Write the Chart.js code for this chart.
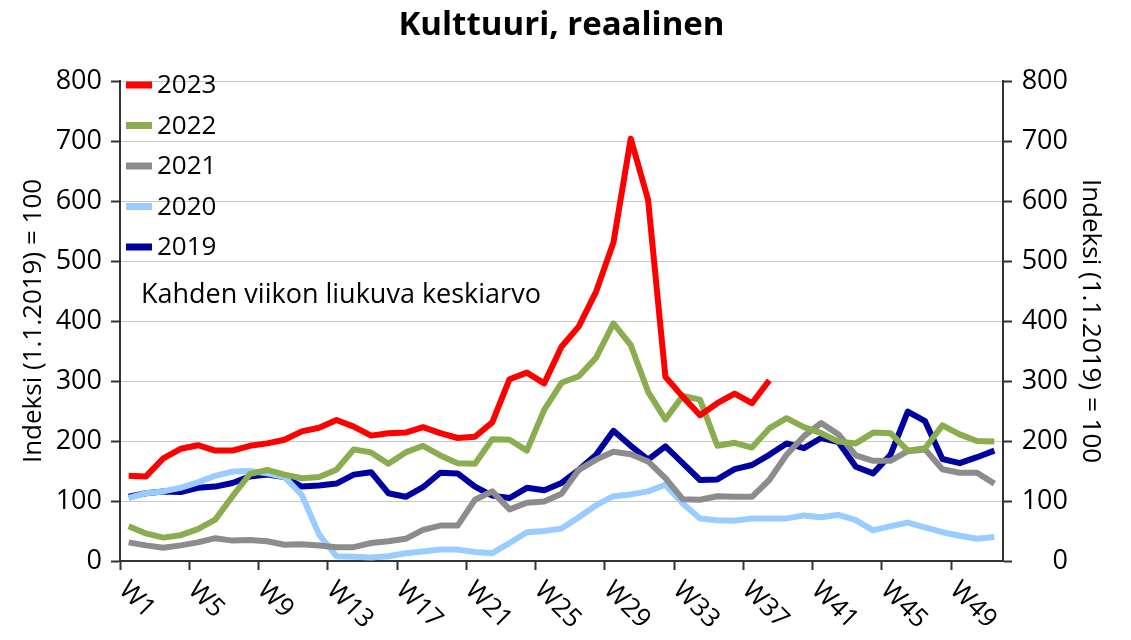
<!DOCTYPE html>
<html lang="fi">
<head>
<meta charset="UTF-8">
<title>Kulttuuri, reaalinen</title>
<script src="https://cdn.jsdelivr.net/npm/chart.js"></script>
<style>
  html, body { margin: 0; padding: 0; background: #fff; }
  #wrap { width: 1131px; height: 640px; }
</style>
</head>
<body>
<div id="wrap"><canvas id="chart" width="1131" height="640"></canvas></div>
<script>
  // viikot W1..W51 (kahden viikon liukuva keskiarvo)
  const weeks = ['W1','W2','W3','W4','W5','W6','W7','W8','W9','W10','W11','W12','W13','W14','W15','W16','W17',
    'W18','W19','W20','W21','W22','W23','W24','W25','W26','W27','W28','W29','W30','W31','W32','W33','W34',
    'W35','W36','W37','W38','W39','W40','W41','W42','W43','W44','W45','W46','W47','W48','W49','W50','W51'];

  const y2023 = [142,141,171,187,193,184,184,192,196,202,216,222,235,
    224,209,213,214,223,213,205,207,231,303,314,296,357,
    391,449,531,704,602,307,274,243,263,279,263,301];
  const y2022 = [58,46,39,43,53,69,108,145,152,144,138,140,152,
    186,181,162,181,192,176,163,162,203,202,184,252,297,
    308,339,396,360,282,236,275,269,192,197,189,221,238,
    223,213,199,196,214,213,184,188,226,211,200,199];
  const y2021 = [31,26,22,26,31,38,34,35,33,27,28,26,23,
    23,30,33,37,52,59,59,102,116,86,97,99,112,
    152,169,182,178,166,138,103,102,108,107,107,135,177,
    208,230,211,176,167,167,183,186,153,147,147,129];
  const y2020 = [105,113,116,122,131,142,149,150,146,140,110,44,8,
    7,6,8,13,16,19,19,15,13,30,48,50,54,
    73,93,108,111,116,127,96,71,68,67,71,71,71,
    76,73,77,68,51,58,64,56,48,42,37,40];
  const y2019 = [107,113,116,115,122,124,130,141,144,140,124,126,129,
    144,148,113,107,123,147,146,124,109,105,122,118,130,
    152,177,217,192,169,191,163,135,136,153,160,177,196,
    188,205,198,157,146,177,249,233,170,163,173,184];

  const seriesNames = ['2023', '2022', '2021', '2020', '2019'];
  const seriesColors = ['#ff0000', '#8aae4f', '#8c8c8c', '#99ccff', '#0000a0'];
  const yMin = 0, yMax = 800, yStep = 100;
  const note = 'Kahden viikon liukuva keskiarvo';
  const axisTitle = 'Indeksi (1.1.2019) = 100';

  const FONT = '"Open Sans", "Noto Sans", sans-serif';
  Chart.defaults.font.family = FONT;
  Chart.defaults.color = '#000';

  // selite ja huomautus piirtoalueen sisällä
  const legendAndNote = {
    id: 'legendAndNote',
    afterDraw(chart) {
      const { ctx, chartArea } = chart;
      ctx.save();
      ctx.font = '26px ' + FONT;
      ctx.textBaseline = 'middle';
      ctx.fillStyle = '#000';
      chart.data.datasets.forEach((ds, i) => {
        const y = chartArea.top + 4 + i * 40.5;
        ctx.strokeStyle = ds.borderColor;
        ctx.lineWidth = 7;
        ctx.beginPath();
        ctx.moveTo(chartArea.left + 6, y);
        ctx.lineTo(chartArea.left + 32, y);
        ctx.stroke();
        ctx.fillText(ds.label, chartArea.left + 37, y + 1);
      });
      ctx.font = '27px ' + FONT;
      ctx.textBaseline = 'alphabetic';
      ctx.fillText(note, chartArea.left + 21, chartArea.top + 222);
      ctx.restore();
    }
  };

  // vinot viikkotekstit x-akselille
  const weekLabels = {
    id: 'weekLabels',
    afterDraw(chart) {
      const sx = chart.scales.x;
      const ctx = chart.ctx;
      ctx.save();
      ctx.font = '26px ' + FONT;
      ctx.fillStyle = '#000';
      ctx.textAlign = 'left';
      ctx.textBaseline = 'middle';
      weeks.forEach((w, i) => {
        if (i % 4) return;
        const px = sx.getPixelForValue(i - 0.5);
        ctx.save();
        ctx.translate(px + 3, sx.top + 25);
        ctx.rotate(Math.PI / 4);
        ctx.fillText(w, 0, 0);
        ctx.restore();
      });
      ctx.restore();
    }
  };

  const allSeries = [y2023, y2022, y2021, y2020, y2019];

  new Chart(document.getElementById('chart'), {
    type: 'line',
    data: {
      labels: weeks,
      datasets: allSeries.map((d, i) => ({
        label: seriesNames[i],
        data: d,
        borderColor: seriesColors[i],
        backgroundColor: seriesColors[i],
        borderWidth: 6,
        borderJoinStyle: 'round',
        pointRadius: 0,
        tension: 0,
        fill: false,
        yAxisID: 'y'
      }))
    },
    options: {
      responsive: false,
      devicePixelRatio: 1,
      animation: false,
      layout: { padding: { left: 0, top: 0, bottom: 0, right: 63 } },
      plugins: {
        legend: { display: false },
        tooltip: { enabled: false },
        title: {
          display: true,
          fullSize: false,
          text: 'Kulttuuri, reaalinen',
          color: '#000',
          font: { size: 33, weight: 'bold' },
          padding: { top: 6, bottom: 35.4 }
        }
      },
      scales: {
        x: {
          type: 'category',
          offset: true,
          grid: {
            offset: true,
            drawOnChartArea: false,
            drawTicks: true,
            tickLength: 9,
            tickWidth: 2,
            tickColor: c => (c.index % 4 === 0 ? '#333' : 'rgba(0,0,0,0)')
          },
          border: { color: '#333', width: 2 },
          ticks: { display: false, autoSkip: false },
          afterFit: s => { s.height = 79; }
        },
        y: {
          position: 'left',
          min: yMin,
          max: yMax,
          ticks: { stepSize: yStep, font: { size: 27 }, padding: 9, color: '#000' },
          grid: { color: '#c8c8c8', lineWidth: 1, tickLength: 9, tickColor: '#333', tickWidth: 2 },
          border: { color: '#333', width: 2 },
          title: { display: true, text: axisTitle, color: '#000', font: { size: 26 }, padding: { top: 18, bottom: 0 } },
          afterFit: s => { s.width = 120; }
        },
        y2: {
          position: 'right',
          min: yMin,
          max: yMax,
          ticks: { stepSize: yStep, font: { size: 27 }, padding: 10, color: '#000', crossAlign: 'far' },
          grid: { drawOnChartArea: false, tickLength: 9, tickColor: '#333', tickWidth: 2 },
          border: { color: '#333', width: 2 },
          // otsikko piirtyy akselin oikean reunan ulkopuolelle
          title: { display: true, text: axisTitle, color: '#000', font: { size: 26 }, padding: { top: -37.6, bottom: 0 } },
          afterFit: s => { s.width = 65; }
        }
      }
    },
    plugins: [legendAndNote, weekLabels]
  });
</script>
</body>
</html>
